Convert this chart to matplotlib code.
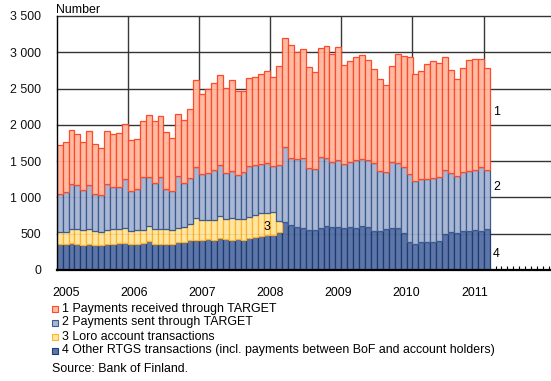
import numpy as np
import matplotlib
matplotlib.use("Agg")
import matplotlib.pyplot as plt
from matplotlib.patches import Rectangle

plt.rcParams['font.family'] = ['Liberation Sans', 'DejaVu Sans']

# Monthly RTGS transaction counts, January 2005 - January 2011
received = [680, 685, 745, 715, 665, 740, 680, 635, 730, 730, 735, 765,
            690, 690, 785, 855, 855, 845, 790, 730, 845, 865, 955, 1195,
            1110, 1155, 1205, 1240, 1175, 1255, 1155, 1120, 1210, 1215, 1240, 1275,
            1225, 1365, 1495, 1555, 1475, 1510, 1400, 1340, 1500, 1540, 1485, 1555,
            1370, 1385, 1415, 1440, 1385, 1295, 1260, 1195, 1310, 1495, 1525, 1615,
            1465, 1485, 1585, 1610, 1575, 1560, 1415, 1325, 1435, 1535, 1530, 1490,
            1400]
sent = [525, 545, 620, 600, 550, 615, 515, 515, 635, 580, 580, 675,
        555, 560, 725, 665, 630, 710, 545, 540, 725, 605, 630, 705,
        635, 655, 690, 700, 630, 645, 615, 640, 705, 685, 680, 680,
        640, 780, 1045, 915, 940, 965, 855, 845, 980, 940, 905, 930,
        880, 905, 940, 920, 920, 940, 825, 785, 915, 900, 920, 935,
        875, 880, 880, 880, 870, 885, 805, 785, 820, 830, 825, 880,
        820]
loro = [165, 170, 200, 205, 200, 205, 185, 180, 185, 200, 195, 205,
        180, 190, 175, 210, 205, 200, 200, 185, 185, 205, 230, 300,
        265, 260, 265, 310, 275, 300, 275, 290, 290, 300, 310, 310,
        315, 140, 0, 0, 0, 0, 0, 0, 0, 0, 0, 0,
        0, 0, 0, 0, 0, 0, 0, 0, 0, 0, 0, 0,
        0, 0, 0, 0, 0, 0, 0, 0, 0, 0, 0, 0,
        0]
other = [355, 360, 370, 360, 350, 355, 350, 345, 365, 365, 375, 370,
         360, 365, 375, 400, 365, 365, 365, 365, 390, 390, 410, 420,
         420, 425, 420, 435, 425, 415, 425, 415, 435, 460, 470, 480,
         480, 530, 655, 625, 590, 575, 545, 545, 575, 605, 590, 590,
         575, 590, 575, 605, 590, 540, 540, 565, 580, 580, 505, 390,
         355, 380, 380, 390, 405, 490, 530, 515, 535, 535, 550, 540,
         560]

years = ['2005', '2006', '2007', '2008', '2009', '2010', '2011']
y_ticks = [0, 500, 1000, 1500, 2000, 2500, 3000, 3500]
y_tick_labels = ['0', '500', '1 000', '1 500', '2 000', '2 500', '3 000', '3 500']
series_names = ['1 Payments received through TARGET',
                '2 Payments sent through TARGET',
                '3 Loro account transactions',
                '4 Other RTGS transactions (incl. payments between BoF and account holders)']

face = {'received': '#FFBBA3', 'sent': '#A9B7D4', 'loro': '#FFE6A3', 'other': '#5E76A7'}
edge = {'received': '#FF4A2A', 'sent': '#3C5B8E', 'loro': '#FFB22A', 'other': '#1B3C77'}

FS = 8.9
W, H = 551, 381
fig = plt.figure(figsize=(W / 100, H / 100), dpi=100)
x0_px, bar_px = 56.7, 5.93
ax = fig.add_axes([x0_px / W, 1 - 270 / H, (W - x0_px) / W, 254 / H])

n = len(other)
x = np.arange(n)
other_a = np.array(other, float)
loro_a = np.array(loro, float)
sent_a = np.array(sent, float)
recv_a = np.array(received, float)

lw = 0.9
ax.bar(x, other_a, width=1, align='edge', color=face['other'],
       edgecolor=edge['other'], linewidth=lw, zorder=2)
m = loro_a > 0
ax.bar(x[m], loro_a[m], bottom=other_a[m], width=1, align='edge',
       color=face['loro'], edgecolor=edge['loro'], linewidth=lw, zorder=2)
b2 = other_a + loro_a
ax.bar(x, sent_a, bottom=b2, width=1, align='edge', color=face['sent'],
       edgecolor=edge['sent'], linewidth=lw, zorder=2)
b1 = b2 + sent_a
ax.bar(x, recv_a, bottom=b1, width=1, align='edge', color=face['received'],
       edgecolor=edge['received'], linewidth=lw, zorder=2)

xmax = (W - x0_px) / bar_px
ax.set_xlim(0, xmax)
ax.set_ylim(0, 3500)

# grid: horizontal lines, plus year separators
for yv in y_ticks[1:]:
    ax.axhline(yv, color='#383838', lw=1.0, zorder=1, clip_on=False)
    ax.axhline(yv, color='black', lw=0.8, alpha=0.07, zorder=3)
for k in range(1, len(years)):
    ax.axvline(12 * k, color='#383838', lw=1.0, zorder=1)

for s in ['top', 'right']:
    ax.spines[s].set_visible(False)
ax.spines['left'].set_linewidth(1.0)
ax.spines['bottom'].set_linewidth(1.6)
ax.spines['bottom'].set_zorder(4)

ax.set_yticks(y_ticks, y_tick_labels)
ax.tick_params(axis='y', length=0, pad=11, labelsize=FS, colors='#111111')

label_pos = [1.65 + 11.47 * k for k in range(len(years))]
ax.set_xticks(label_pos, years)
ax.set_xticks(np.arange(0, int(xmax) + 1), minor=True)
ax.tick_params(axis='x', which='major', length=0, pad=12, labelsize=FS)
ax.tick_params(axis='x', which='minor', direction='in', length=3, width=0.8)

# series markers beside and inside the stack
ax.text(73.6, 2180, '1', fontsize=FS, va='center', ha='left')
ax.text(73.6, 1150, '2', fontsize=FS, va='center', ha='left')
ax.text(73.6, 220, '4', fontsize=FS, va='center', ha='left')
ax.text(35.5, 590, '3', fontsize=FS, va='center', ha='center', zorder=5)

fig.text(56 / W, 1 - 10 / H, 'Number', fontsize=FS, va='center', ha='left')

# legend
keys = ['received', 'sent', 'loro', 'other']
rows_y = [309, 322.5, 336.5, 350.5]
for key, name, yc in zip(keys, series_names, rows_y):
    fig.patches.append(Rectangle((52 / W, 1 - (yc + 3) / H), 6 / W, 6 / H,
                                 transform=fig.transFigure, facecolor=face[key],
                                 edgecolor=edge[key], linewidth=0.8))
    fig.text(61.5 / W, 1 - yc / H, name, fontsize=FS, va='center', ha='left')

fig.text(52 / W, 1 - 369 / H, 'Source: Bank of Finland.', fontsize=FS,
         va='center', ha='left')

fig.savefig('out.png', dpi=100)
